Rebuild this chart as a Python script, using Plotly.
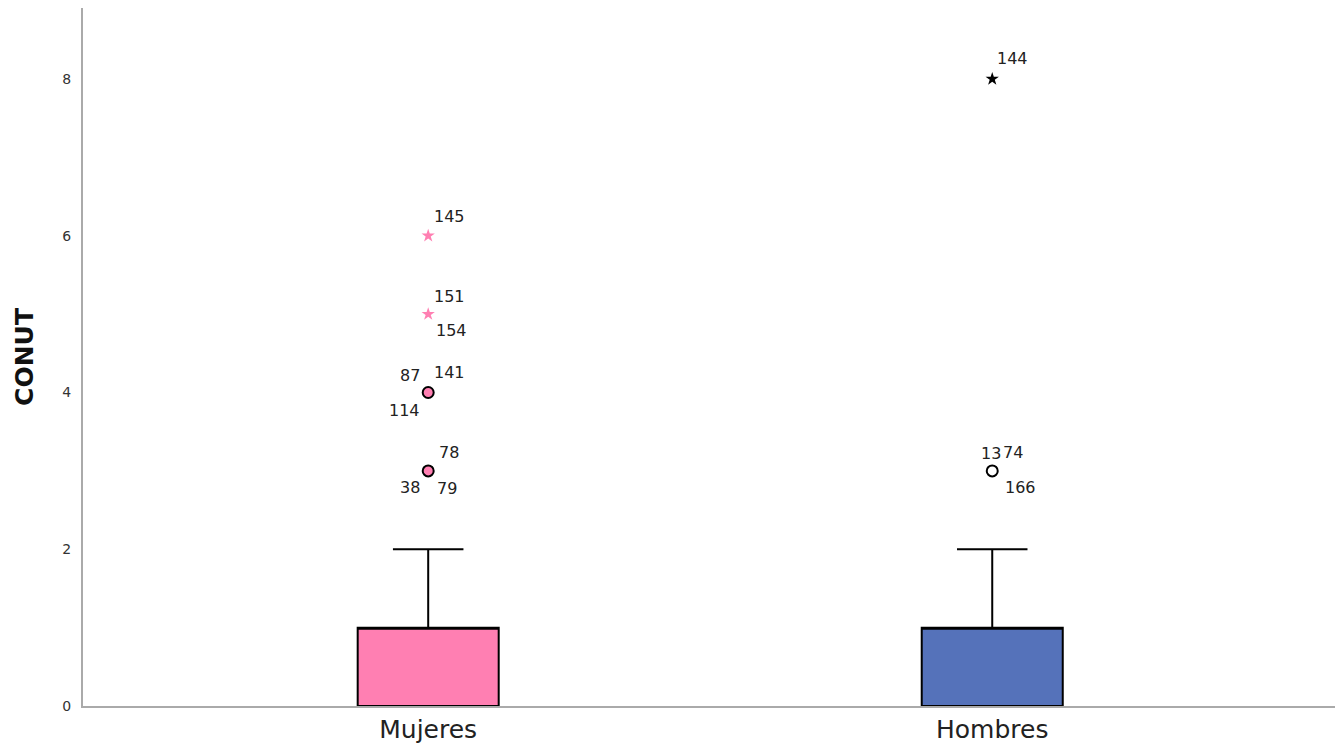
import plotly.graph_objects as go

categories = ["Mujeres", "Hombres"]
q1 = [0, 0]
median = [1, 1]
q3 = [1, 1]
lower = [0, 0]
upper = [2, 2]
box_colors = ["#FF7FB2", "#5572BA"]

# outliers
circ_cat = ["Mujeres", "Mujeres", "Hombres"]
circ_val = [3, 4, 3]
circ_fill = ["#FF7FB2", "#FF7FB2", "white"]
star_cat = ["Mujeres", "Mujeres", "Hombres"]
star_val = [6, 5, 8]
star_color = ["#FF7FB2", "#FF7FB2", "black"]

# case labels
lab_cat = ["Mujeres", "Mujeres", "Mujeres", "Mujeres", "Mujeres", "Mujeres", "Mujeres", "Mujeres", "Mujeres",
           "Hombres", "Hombres", "Hombres", "Hombres"]
lab_val = [6, 5, 5, 4, 4, 4, 3, 3, 3, 8, 3, 3, 3]
lab_txt = ["145", "151", "154", "87", "141", "114", "78", "38", "79", "144", "13", "74", "166"]

# label placement (pixel shifts, anchor) -- style only
lab_dx = [4, 4, 6, -6, 4, -6, 9, -6, 7, 3, -13, 9, 11]
lab_dy = [19, 18, -16, 17, 20, -18, 18, -17, -18, 21, 17, 18, -17]
lab_xa = ["left", "left", "left", "right", "left", "right", "left", "right", "left", "left", "left", "left", "left"]

fig = go.Figure()
for i, c in enumerate(categories):
    fig.add_trace(go.Box(
        x=[c], q1=[q1[i]], median=[median[i]], q3=[q3[i]],
        lowerfence=[lower[i]], upperfence=[upper[i]],
        fillcolor=box_colors[i], line=dict(color="black", width=2),
        width=0.25, whiskerwidth=0.5, boxpoints=False, showlegend=False,
        hoverinfo="skip"))

fig.add_trace(go.Scatter(
    x=circ_cat, y=circ_val, mode="markers", showlegend=False,
    marker=dict(symbol="circle", size=11, color=circ_fill,
                line=dict(color="black", width=2))))
fig.add_trace(go.Scatter(
    x=star_cat, y=star_val, mode="markers", showlegend=False,
    marker=dict(symbol="star", size=10, color=star_color,
                line=dict(width=0))))

for c, v, t, dx, dy, xa in zip(lab_cat, lab_val, lab_txt, lab_dx, lab_dy, lab_xa):
    fig.add_annotation(x=c, y=v, text=t, showarrow=False, xanchor=xa, yanchor="middle",
                       xshift=dx, yshift=dy,
                       font=dict(family="DejaVu Sans", size=16, color="#222222"))

fig.update_layout(
    width=1343, height=750,
    margin=dict(l=75, r=13, t=0, b=52),
    plot_bgcolor="white", paper_bgcolor="white",
    font=dict(family="DejaVu Sans", color="#222222"),
    xaxis=dict(type="category", categoryorder="array", categoryarray=categories,
               range=[-0.612, 1.613], showline=True, linecolor="#aaaaaa", linewidth=2,
               showgrid=False, zeroline=False, ticks="",
               tickfont=dict(size=25, color="#222222")),
    yaxis=dict(range=[0, 8.906], tickvals=[0, 2, 4, 6, 8], showline=True,
               linecolor="#aaaaaa", linewidth=2, showgrid=False, zeroline=False,
               ticks="", ticklabelstandoff=7,
               tickfont=dict(size=14, color="#333333"),
               title=dict(text="<b>CONUT</b>", font=dict(size=25, color="#111111"), standoff=22)),
)

fig.write_html("out.html")
